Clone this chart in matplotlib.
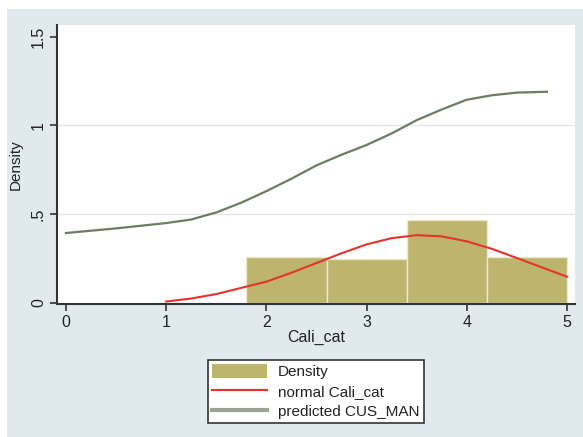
import matplotlib
matplotlib.use("Agg")
import matplotlib.pyplot as plt
from matplotlib.patches import Patch, Rectangle
from matplotlib.lines import Line2D

plt.rcParams['font.family'] = ['Liberation Sans', 'DejaVu Sans']

# histogram of Cali_cat (density scale)
bin_edges = [1.8, 2.6, 3.4, 4.2, 5.0]
density = [0.26, 0.25, 0.47, 0.26]

# normal density overlay
normal_x = [1.0, 1.25, 1.5, 1.75, 2.0, 2.25, 2.5, 2.75, 3.0, 3.25, 3.5,
            3.75, 4.0, 4.25, 4.5, 4.75, 5.0]
normal_y = [0.008, 0.025, 0.05, 0.085, 0.12, 0.17, 0.225, 0.28, 0.33, 0.365,
            0.382, 0.375, 0.347, 0.305, 0.253, 0.2, 0.148]

# predicted CUS_MAN
pred_x = [0, 0.5, 1.0, 1.25, 1.5, 1.75, 2.0, 2.25, 2.5, 2.75, 3.0, 3.25,
          3.5, 3.75, 4.0, 4.25, 4.5, 4.8]
pred_y = [0.394, 0.42, 0.45, 0.47, 0.51, 0.565, 0.63, 0.7, 0.775, 0.835,
          0.89, 0.955, 1.03, 1.09, 1.145, 1.17, 1.185, 1.19]

xticks = [0, 1, 2, 3, 4, 5]
yticks = [0, 0.5, 1, 1.5]
ytick_labels = ['0', '.5', '1', '1.5']

bg = '#e0eaec'
bar_color = '#bdb46e'
red = '#e8322e'
green = '#6c7d62'

fig = plt.figure(figsize=(5.83, 4.37), dpi=100, facecolor='white')
# light blue background panel (white strip on left and top)
fig.patches.append(Rectangle((7 / 583, 0), 1 - 7 / 583, 1 - 9 / 437,
                             transform=fig.transFigure, facecolor=bg,
                             edgecolor='none', zorder=-10))

ax = fig.add_axes([57 / 583, (437 - 304) / 437, 518 / 583, 279 / 437])
ax.set_facecolor('white')

widths = [b - a for a, b in zip(bin_edges[:-1], bin_edges[1:])]
ax.bar(bin_edges[:-1], density, width=widths, align='edge',
       color=bar_color, edgecolor='#ece8c8', linewidth=1, zorder=2)
ax.plot(normal_x, normal_y, color=red, lw=1.5, zorder=3)
ax.plot(pred_x, pred_y, color=green, lw=1.6, zorder=3)

ax.set_xlim(-0.09, 5.08)
ax.set_ylim(-0.006, 1.566)
ax.set_xticks(xticks)
ax.set_yticks(yticks)
ax.set_yticklabels(ytick_labels, rotation=90, va='center')
ax.tick_params(direction='out', length=5, width=1.2, colors='#333333',
               labelsize=11.5, pad=3)
ax.tick_params(axis='x', labelcolor='#222222')
ax.tick_params(axis='y', labelcolor='#222222')

for s in ['top', 'right']:
    ax.spines[s].set_visible(False)
for s in ['left', 'bottom']:
    ax.spines[s].set_color('#333333')
    ax.spines[s].set_linewidth(1.5)

for yv in [0.5, 1.0]:
    ax.axhline(yv, color='#e6e6e6', lw=1, zorder=1)

ax.set_ylabel('Density', fontsize=11, color='#222222', labelpad=6)
ax.set_xlabel('Cali_cat', fontsize=11.5, color='#222222', labelpad=0)

handles = [
    Patch(facecolor=bar_color, edgecolor='none'),
    Line2D([], [], color=red, lw=1.5),
    Line2D([], [], color='#9aa492', lw=3),
]
labels = ['Density', 'normal Cali_cat', 'predicted CUS_MAN']
leg = fig.legend(handles, labels, loc='upper center',
                 bbox_to_anchor=(316 / 583, (437 - 352) / 437),
                 fontsize=11, frameon=True, fancybox=False,
                 edgecolor='#333333', facecolor='white', framealpha=1,
                 handlelength=3.6, handleheight=1.0, labelspacing=0.3,
                 borderpad=0.3, handletextpad=0.7)
leg.get_frame().set_linewidth(1.2)
for t in leg.get_texts():
    t.set_color('#222222')

fig.savefig('out.png', dpi=100, facecolor=fig.get_facecolor())
